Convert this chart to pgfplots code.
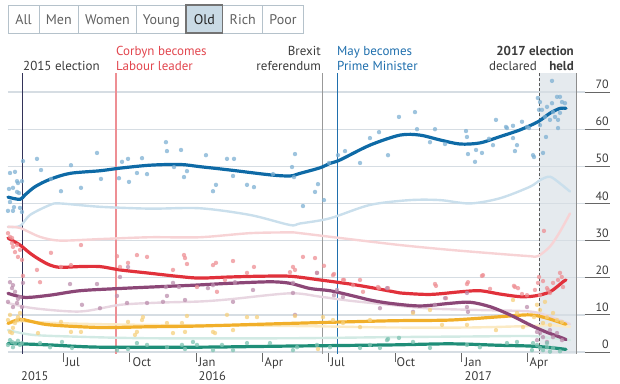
\documentclass[border=0pt]{standalone}
\usepackage{pgfplots}
\pgfplotsset{compat=1.18}
\usepackage{fontspec}
\setmainfont{PT Sans}
\definecolor{conB}{HTML}{0E6AA6}
\definecolor{conD}{HTML}{7DB0D3}
\definecolor{conL}{HTML}{CADFEC}
\definecolor{labB}{HTML}{E1313B}
\definecolor{labD}{HTML}{EE8F94}
\definecolor{labL}{HTML}{F7D3D5}
\definecolor{ukB}{HTML}{8C4777}
\definecolor{ukD}{HTML}{BC8FAE}
\definecolor{ukL}{HTML}{E8D6E1}
\definecolor{ldB}{HTML}{F1AF2A}
\definecolor{ldD}{HTML}{F6D07E}
\definecolor{ldL}{HTML}{FBEAC4}
\definecolor{grB}{HTML}{1F8E78}
\definecolor{grD}{HTML}{7EC3B2}
\definecolor{grL}{HTML}{D2EAE4}
\definecolor{gridc}{HTML}{D6DDE3}
\definecolor{shadec}{HTML}{E5EAEE}
\definecolor{txt}{HTML}{3B3B3B}
\definecolor{corbyn}{HTML}{E2464E}
\definecolor{mayc}{HTML}{1F6FAD}
\definecolor{btnb}{HTML}{B5C2CB}
\definecolor{btnsel}{HTML}{C9DAE5}
\begin{document}
\begin{tikzpicture}
\begin{axis}[at={(0,0)},anchor=south west,width=620pt,height=383pt,scale only axis,
  xmin=-86.9,xmax=768.3,ymin=-8.35,ymax=94.78,axis lines=none,clip=false,
  dots/.style={only marks,mark=*,mark size=2.2pt,mark options={draw opacity=0,fill opacity=0.75}},
  bold/.style={smooth,line width=3.2pt,line cap=round},
  faint/.style={smooth,line width=2.4pt,line cap=round}]
% election period shading
\fill[shadec] (axis cs:657,75.1) rectangle (axis cs:708,-0.6);
% gridlines and right labels
\pgfplotsinvokeforeach{0,10,...,70}{
  \draw[gridc,line width=1.3pt] (axis cs:-75.9,#1) -- (axis cs:720,#1);
  \draw[black!60,line width=0.8pt] (axis cs:720,#1) -- (axis cs:754.5,#1);
  \node[anchor=base east,inner sep=0,text=txt,font=\fontsize{12}{14}\selectfont] at (axis cs:753,{#1+0.9}) {#1};
}
% month ticks
\pgfplotsinvokeforeach{0,92,184,275,366,458,550,640}{
  \draw[black!60,line width=0.8pt] (axis cs:#1,-0.3) -- (axis cs:#1,-2.8);
}
% event lines
\draw[black!75!blue!60!gray,line width=1pt] (axis cs:-55.2,75.1) -- (axis cs:-55.2,-0.6);
\draw[labD,line width=1.2pt] (axis cs:73,75.1) -- (axis cs:73,-0.6);
\draw[black!40,line width=1.5pt] (axis cs:358,75.1) -- (axis cs:358,-0.6);
\draw[mayc,line width=1pt] (axis cs:378,75.1) -- (axis cs:378,-0.6);
\draw[black!65,line width=0.9pt,dash pattern=on 3pt off 2pt] (axis cs:657,75.1) -- (axis cs:657,-0.6);
\draw[black!45,line width=1.5pt] (axis cs:708,75.1) -- (axis cs:708,-0.6);
% faint (all voters) lines
\addplot[faint,color=conL] coordinates {(-75.9,33.7) (-59.3,33.9) (-45.5,36.9) (-17.9,39.6) (-4.1,40.0) (51,39.1) (120,38.6) (189,38.7) (258,36.9) (313,34.2) (326.9,34.6) (368.3,36.0) (423.4,39.6) (478.6,40.9) (520,40.9) (561.4,40.0) (602.8,41.4) (644.1,44.5) (658,46.3) (671.7,47.2) (685.5,45.4) (699.3,43.2)};
\addplot[faint,color=labL] coordinates {(-75.9,33.7) (-59.3,33.4) (-31.7,31.0) (-4.1,30.0) (51,30.4) (120,30.9) (189,30.9) (258,32.0) (313,32.2) (326.9,32.0) (382,30.7) (464.8,28.8) (533.8,27.5) (602.8,26.4) (644.1,25.8) (655,25.8) (671.7,28.4) (685.5,32.4) (699.3,37.3)};
\addplot[faint,color=ukL] coordinates {(-75.9,13.2) (-41.4,11.8) (23.4,10.9) (78.6,12.7) (133.8,13.3) (189,13.6) (230.3,14.2) (313.1,15.8) (354.5,14.9) (395.9,13.8) (451,12.7) (506.2,11.7) (575.2,11.3) (644.1,10.9) (671.7,9.5) (699.3,7.5)};
\addplot[faint,color=ldL] coordinates {(-75.9,7.6) (-59.3,8.3) (-31.7,8.0) (23.4,7.6) (120,7.3) (230,7.2) (354,6.9) (451,6.6) (561,6.6) (644,7.0) (671.7,7.2) (699.3,6.8)};
\addplot[faint,color=grL] coordinates {(-75.9,5.9) (-41.4,4.6) (23.4,4.1) (120,3.7) (313,3.7) (451,4.0) (575,4.2) (644,4.3) (671.7,3.8) (699.3,3.2)};
% poll dots (old voters)
\addplot[dots,color=conD] coordinates {(-55.2,51.4) (-35.9,52.0) (-30.3,49.0) (-73.1,48.2) (-66.2,48.5) (-63.4,46.0) (-62.1,45.5) (-56.6,46.0) (-74.5,43.9) (-69,44.2) (-63.4,43.1) (-60.7,42.8) (-73.1,40.4) (-67.6,39.0) (-69,38.0) (-59.3,38.8) (-56.6,37.7) (-75.9,38.0) (-2.8,43.3) (-16.6,46.6) (11,50.3) (24.8,44.2) (46.9,53.6) (52.4,46.6) (77.2,46.8) (81.4,51.2) (89.7,52.0) (91,45.8) (102,48.2) (109,52.2) (115.9,47.9) (142,56.5) (143.4,54.1) (162.8,54.4) (153.1,49.8) (166.9,47.1) (171,48.7) (197.2,53.0) (206.9,43.3) (211,45.0) (226.2,52.0) (235.9,52.0) (234.5,47.4) (253.8,45.0) (263.4,44.4) (289.7,47.9) (315.9,49.8) (320,53.3) (318.6,47.1) (331,39.3) (347.6,43.1) (351.7,45.2) (360,40.9) (366.9,50.9) (379.3,53.0) (389,54.1) (409.7,50.9) (423.4,57.6) (435.9,59.2) (448.3,53.0) (463.4,63.3) (485.5,64.6) (488.3,60.0) (506.2,56.5) (513.1,60.0) (526.9,56.0) (555.9,59.5) (557.2,57.9) (558.6,53.3) (568.3,51.2) (569.7,54.4) (577.9,53.6) (587.6,57.4) (593.1,55.7) (597.2,62.5) (611,60.6) (612.4,60.3) (620.7,60.9) (620.7,57.6) (626.2,55.7) (623.4,54.1) (633.1,62.0) (642.8,60.3) (640,60.6) (648.3,53.0) (649.7,52.5) (662.1,53.6) (666.2,57.9) (655,68.4) (674.5,73.0) (656.6,65.2) (657.9,67.3) (660.7,65.2) (667.6,66.0) (674.5,67.0) (681.4,68.7) (685.5,68.7) (688.3,67.3) (692.4,67.0) (664.8,63.3) (671.7,62.5) (678.6,63.3) (682.8,62.5) (685.5,64.4) (682.8,60.3) (675.9,64.6) (657.9,61.1)};
\addplot[dots,color=labD] coordinates {(-75.9,32.0) (-73.1,31.0) (-70.3,29.3) (-69,28.3) (-66.2,26.9) (-63.4,28.8) (-62.1,25.6) (-59.3,27.5) (-56.6,24.8) (-70.3,30.7) (-55.2,20.5) (-35.9,22.1) (-16.6,26.7) (-2.8,22.9) (24.8,28.8) (11,23.4) (74.5,25.8) (78.6,22.9) (89.7,24.0) (102,26.1) (115.9,25.6) (151.7,22.1) (166.9,26.1) (168.3,25.3) (171,23.7) (206.9,23.4) (211,24.0) (234.5,24.5) (253.8,21.3) (263.4,22.9) (317.2,22.9) (320,22.1) (331,25.6) (347.6,25.3) (360,23.2) (373.8,21.0) (387.6,19.4) (409.7,19.4) (435.9,17.2) (448.3,17.2) (514.5,17.8) (528.3,14.5) (557.2,18.3) (577.9,20.5) (589,17.0) (622,17.8) (627.6,17.2) (633.1,15.6) (655.2,18.6) (662.1,19.1) (663.4,32.6) (223.4,19.4) (184.8,17.5) (212.4,16.2) (313.1,21.5) (350.3,21.3) (372.4,20.7) (386.2,19.4) (400,18.0) (413.8,16.2) (434.5,17.5) (513.1,18.3) (558.6,18.8) (623.4,17.5) (656.6,20.2) (667.6,17.2) (675.9,18.6) (685.5,21.3) (682.8,19.4) (689.7,17.5) (671.7,15.9) (657.9,15.3) (640,15.3) (651,16.7) (669,16.7) (688,20.2) (579.3,20.7) (-31.7,18.8)};
\addplot[dots,color=ukD] coordinates {(-73.1,18.8) (-69,18.0) (-70.3,17.2) (-66.2,16.2) (-75.9,13.5) (-63.4,13.2) (-62.1,14.3) (-69,12.1) (-59.3,14.8) (-56.6,12.1) (-55.2,18.6) (9.7,18.3) (26.2,12.7) (46.9,18.3) (74.5,15.1) (88.3,13.2) (115.9,13.2) (143.4,15.1) (168.3,14.0) (137.9,13.5) (160,17.5) (51,11.8) (78.6,20.2) (89.7,22.9) (142,17.5) (151.7,18.6) (237.2,18.8) (317.2,18.6) (317.2,15.9) (206.9,18.0) (262.1,16.7) (320,10.0) (377.9,16.7) (386.2,14.8) (437.2,11.8) (234.5,13.5) (199.9,17.2) (446.9,17.2) (482.8,10.8) (513.1,12.7) (557.2,12.1) (558.6,10.8) (640,12.1) (653.8,5.4) (657.9,5.1) (662.1,4.0) (671.7,5.9) (675.9,4.0) (681.4,5.1) (688.3,3.2) (667.6,2.7) (653.8,3.2) (350.3,21.3) (373.8,15.3) (526.9,14.5) (557.2,15.9)};
\addplot[dots,color=ldD] coordinates {(-75.9,8.6) (-73.1,5.4) (-69,6.5) (-66.2,7.8) (-63.4,8.6) (-62.1,9.4) (-59.3,10.5) (-56.6,8.6) (-70.3,5.1) (-34.5,5.1) (-2.8,8.1) (11,5.4) (24.8,5.4) (89.7,8.1) (102,5.4) (109,8.6) (143.4,7.8) (164.1,7.8) (168.3,5.4) (-73.1,10.0) (99.3,4.6) (110.3,9.4) (171,9.7) (206.9,5.4) (226.2,10.0) (320,9.7) (151.7,5.1) (209.7,5.1) (253.8,9.4) (267.6,9.4) (234.5,5.9) (358.6,9.4) (372.4,8.6) (386.2,7.8) (423.4,8.6) (409.7,6.7) (351.7,0.8) (482.8,10.5) (506.2,11.3) (522.8,7.3) (557.2,7.3) (597.2,5.9) (620.7,14.0) (626.2,10.5) (634.5,6.7) (653.8,12.7) (657.9,11.3) (664.8,13.5) (667.6,9.4) (675.9,10.5) (681.4,8.6) (688.3,8.1) (662.1,7.8) (649.7,9.4) (671.7,7.3)};
\addplot[dots,color=grD] coordinates {(-73.1,3.2) (-70.3,2.7) (-66.2,2.4) (-62.1,3.0) (-56.6,2.4) (-69,1.3) (-59.3,1.9) (-75.9,1.9) (-31.7,2.4) (-17.9,1.3) (-1.4,2.7) (12.4,1.1) (74.5,0.5) (89.7,0.8) (102,2.4) (115.9,1.9) (143.4,1.3) (164.1,1.9) (168.3,0.8) (179.3,2.7) (184.8,1.9) (206.9,0.5) (219.3,1.9) (234.5,0.5) (253.8,2.4) (285.5,2.4) (317.2,0.5) (322.8,1.3) (350.3,1.9) (368.3,1.3) (409.7,1.1) (423.4,1.9) (437.2,1.1) (446.9,3.2) (482.8,2.7) (506.2,1.1) (557.2,1.9) (575,1.3) (612.4,2.4) (626.2,2.7) (653.8,1.9) (662.1,0.5) (667.6,2.4) (675.9,1.1) (685.5,0.2) (671.7,0.1) (657.9,1.1) (646.9,0.5) (448.3,3.5) (463.4,3.8) (648.3,2.4) (667.6,1.3)};
% bold (old voters) trend lines
\addplot[bold,color=grB] coordinates {(-75.9,2.3) (-59.3,2.2) (-17.9,1.9) (51,1.3) (189,1.3) (313,1.6) (451,1.9) (533.8,2.2) (602.8,1.8) (644,1.6) (671.7,1.2) (693.8,0.7)};
\addplot[bold,color=ldB] coordinates {(-75.9,7.7) (-59.3,8.8) (-45.5,8.3) (-17.9,7.3) (51,6.6) (120,6.8) (189,7.0) (313.1,7.7) (451,8.4) (533.8,8.6) (602.8,9.5) (644.1,10.0) (667.6,9.1) (689.7,7.7) (693.8,7.5)};
\addplot[bold,color=ukB] coordinates {(-75.9,15.8) (-52.4,14.7) (-17.9,15.3) (23.4,16.5) (78.6,17.1) (133.8,17.6) (182,18.0) (230.3,18.5) (285.5,18.9) (313.1,18.5) (340.7,17.1) (368.3,16.5) (395.9,15.3) (423.4,14.0) (451,13.1) (492.4,12.4) (533.8,13.1) (561.4,13.4) (589,12.2) (616.6,10.0) (644.1,7.3) (664.8,5.5) (689.7,3.7) (693.8,3.3)};
\addplot[bold,color=labB] coordinates {(-75.9,30.7) (-59.3,28.8) (-45.5,26.6) (-31.7,24.8) (-17.9,23.4) (-4.1,22.8) (23.4,23.0) (51,23.0) (78.6,22.1) (120,21.2) (161.4,20.3) (189,19.9) (230.3,20.2) (271.7,20.4) (313.1,20.4) (354.5,19.4) (395.9,18.3) (423.4,17.4) (451,16.4) (464.8,15.9) (506.2,15.5) (547.6,16.2) (575.2,16.5) (602.8,15.6) (630.3,14.9) (651,15.1) (671.7,16.2) (689.7,18.9) (693.8,19.4)};
\addplot[bold,color=conB] coordinates {(-75.9,41.7) (-59.3,41.1) (-52.4,42.3) (-38.6,44.5) (-17.9,46.5) (9.7,48.1) (51,48.8) (78.6,49.5) (120,50.3) (161.4,50.5) (189,49.9) (230.3,49.0) (285.5,47.7) (313.1,47.4) (326.9,48.1) (354.5,49.6) (368.3,50.8) (382,51.7) (423.4,55.7) (464.8,58.4) (492.4,58.4) (520,57.1) (547.6,56.0) (575.2,56.3) (602.8,58.0) (630.3,59.8) (655.2,62.0) (671.7,64.3) (685.5,65.6) (693.8,65.6)};
\end{axis}
% pixel-coordinate overlay
\begin{scope}[x=1pt,y=-1pt,shift={(0pt,383pt)},every node/.style={inner sep=0pt}]
  % buttons
  \foreach \a/\b/\l in {8/39.3/All,39.3/78.3/Men,78.3/136.7/Women,136.7/186/Young,222.7/262.7/Rich,262.7/303.3/Poor}{
    \draw[btnb,line width=0.9pt,fill=white] (\a,5) rectangle (\b,33);
    \node[anchor=base,text=black!62,font=\fontsize{14}{16}\selectfont] at ({(\a+\b)/2},25) {\l};
  }
  \draw[black!55,line width=1.1pt,fill=btnsel] (186,5) rectangle (222.7,33);
  \node[anchor=base,text=black!85,font=\fontsize{14}{16}\selectfont] at (204.35,25) {Old};
  % annotations
  \begin{scope}[every node/.append style={font=\fontsize{13}{15}\selectfont}]
  \node[anchor=base west,text=txt] at (23,71) {2015 election};
  \node[anchor=base west,text=corbyn] at (116,56) {Corbyn becomes};
  \node[anchor=base west,text=corbyn] at (116,70.5) {Labour leader};
  \node[anchor=base east,text=txt] at (321,56) {Brexit};
  \node[anchor=base east,text=txt] at (321,70.5) {referendum};
  \node[anchor=base west,text=mayc] at (337,56) {May becomes};
  \node[anchor=base west,text=mayc] at (337,70.5) {Prime Minister};
  \node[anchor=base east,text=txt] at (574,56) {\bfseries 2017 election};
  \node[anchor=base east,text=txt] at (574,70.5) {\bfseries held};
  \node[anchor=base east,text=txt] at (537,70.5) {declared};
  % month labels
  \foreach \x/\l in {63/Jul,130/Oct,196/Jan,262/Apr,328/Jul,394/Oct,462/Jan,527/Apr}{
    \node[anchor=base west,text=txt,font=\fontsize{12.5}{14}\selectfont] at (\x+2.5,366) {\l};
  }
  \node[anchor=base west,text=txt,font=\fontsize{12.5}{14}\selectfont] at (21,380.5) {2015};
  \node[anchor=base west,text=txt,font=\fontsize{12.5}{14}\selectfont] at (198.5,380.5) {2016};
  \node[anchor=base west,text=txt,font=\fontsize{12.5}{14}\selectfont] at (464.5,380.5) {2017};
  \end{scope}
\end{scope}
\pgfresetboundingbox
\useasboundingbox (0,0) rectangle (620pt,383pt);
\end{tikzpicture}
\end{document}
